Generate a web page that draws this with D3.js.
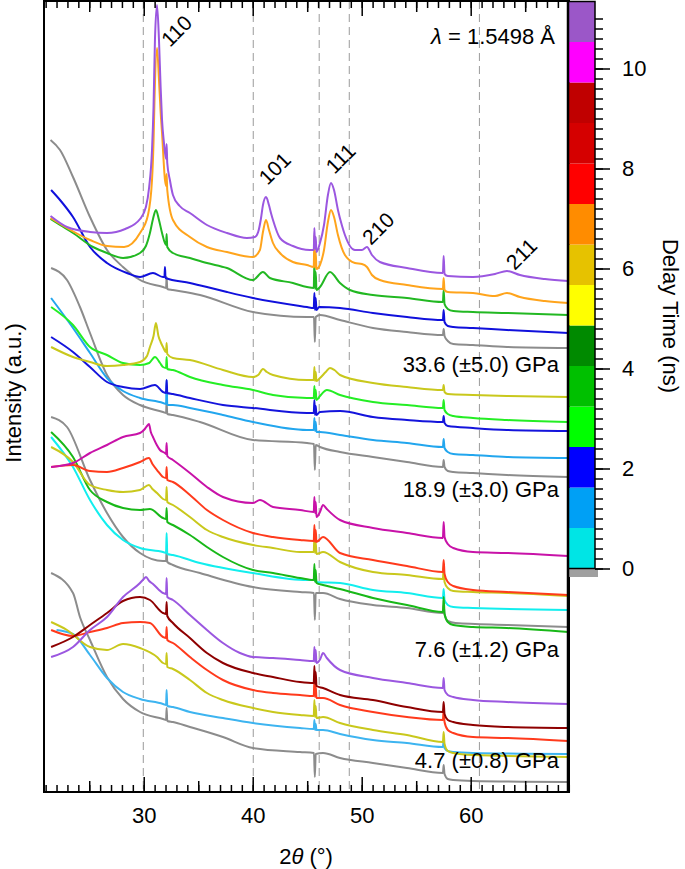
<!DOCTYPE html>
<html><head><meta charset="utf-8">
<script src="https://cdn.jsdelivr.net/npm/d3@7"></script>
<style>
body{margin:0;background:#fff}
svg{display:block}
text{font-family:"Liberation Sans",Arial,Helvetica,sans-serif;fill:#000}
</style>
</head><body>
<svg id="chart" width="685" height="869"></svg>
<script>
// ---------- data: [2theta (deg), intensity (a.u.)] ----------
const g1Purple=[[21.45,57.6],[22.96,56.5],[25.07,56.0],[26.63,55.9],[28.3,56.3],[29.66,57.3],[30.2,58.5],[30.5,60.5],[30.76,64.2],[30.9,68.5],[31.03,75.2],[31.22,78.7],[31.4,75.2],[31.55,70.5],[31.68,67.2],[31.85,65.0],[32.05,63.3],[32.1,64.8],[32.16,62.9],[32.4,61.2],[32.68,59.7],[33.3,58.6],[34.24,57.9],[35.8,56.7],[37.64,55.9],[39.47,55.4],[40.2,55.5],[40.5,56.0],[40.75,57.3],[40.94,58.7],[41.22,59.5],[41.49,58.7],[41.7,57.8],[41.86,57.2],[42.5,55.4],[43.69,54.6],[45.25,54.2],[45.6,54.2],[45.66,56.4],[45.72,54.3],[45.78,55.5],[45.85,54.0],[46.17,54.9],[46.54,56.7],[46.9,59.7],[47.18,60.9],[47.46,60.2],[47.82,58.2],[48.2,56.6],[48.46,55.7],[49.38,54.2],[50.02,54.2],[50.48,54.5],[50.94,53.7],[51.67,53.0],[54.15,52.4],[57.45,51.9],[57.52,53.6],[57.6,51.8],[57.9,51.6],[60.21,51.5],[62.23,51.8],[63.33,52.1],[64.52,51.7],[66.81,51.3],[68.95,51.1]];
const g1Orange=[[21.45,57.4],[22.96,56.4],[25.07,55.2],[26.63,54.6],[28.2,54.5],[29.66,55.9],[30.39,57.7],[30.76,61.2],[30.9,65.0],[30.99,69.2],[31.22,74.4],[31.4,71.2],[31.55,68.0],[31.68,65.9],[31.95,61.2],[32.05,60.6],[32.1,61.8],[32.16,60.2],[32.68,57.2],[34.24,55.5],[35.8,54.5],[37.64,54.0],[40.02,53.5],[40.66,54.2],[40.94,56.0],[41.22,57.2],[41.49,56.2],[41.86,54.9],[42.5,53.9],[43.69,53.0],[44.98,52.7],[45.6,52.5],[45.66,55.7],[45.72,52.4],[45.78,54.0],[45.85,52.3],[46.17,52.7],[46.54,54.2],[46.9,57.0],[47.18,58.2],[47.46,57.5],[47.82,55.7],[48.46,53.7],[49.38,52.9],[50.02,52.8],[50.48,52.5],[50.94,51.7],[51.67,51.2],[54.15,50.7],[57.45,50.3],[57.52,51.4],[57.6,50.2],[57.9,50.0],[60.21,49.9],[62.23,49.6],[63.33,49.9],[64.52,49.5],[66.81,49.1],[68.95,48.9]];
const g1Green=[[21.45,57.3],[22.32,56.7],[23.51,55.9],[25.35,54.5],[26.63,53.9],[28.1,53.4],[29.66,53.9],[30.2,54.6],[30.57,55.9],[30.85,57.3],[31.12,58.2],[31.4,57.2],[31.68,55.9],[32.05,54.7],[32.1,55.8],[32.16,54.5],[32.68,53.9],[34.24,53.4],[35.8,52.9],[37.64,52.4],[40.02,51.2],[40.94,52.0],[41.58,51.4],[43.69,50.9],[44.98,50.5],[45.6,50.4],[45.66,53.0],[45.72,50.3],[45.78,52.0],[45.85,50.2],[46.17,50.5],[47.09,52.0],[48.01,50.9],[48.92,50.2],[51.03,49.7],[54.15,49.4],[57.45,49.0],[57.52,50.2],[57.6,48.8],[57.9,48.3],[58.4,48.1],[60.21,48.0],[63.33,47.9],[68.95,47.7]];
const g1Blue=[[21.5,60.2],[22.32,59.2],[23.51,57.5],[25.07,54.5],[26.63,52.9],[28.46,51.9],[29.66,51.5],[30.85,51.9],[31.77,51.5],[31.9,51.5],[31.95,52.5],[32.0,51.4],[34.24,50.9],[35.8,50.5],[37.64,50.0],[40.02,49.4],[44.98,48.5],[45.6,48.4],[45.66,49.9],[45.72,48.2],[45.78,49.4],[45.85,48.2],[46.1,48.5],[48.01,48.4],[51.03,47.9],[54.15,47.5],[57.45,47.2],[57.52,48.2],[57.6,47.0],[57.9,46.6],[58.4,46.5],[60.21,46.4],[63.33,46.2],[68.95,45.9]];
const g1Gray=[[21.45,65.2],[22.32,64.2],[23.51,61.5],[25.07,57.5],[26.63,54.2],[28.1,52.5],[29.66,51.2],[31.77,50.5],[32.05,50.4],[32.1,51.5],[32.16,50.3],[32.68,50.2],[35.16,49.7],[40.02,48.0],[44.98,47.5],[45.62,47.5],[45.7,45.0],[45.78,47.5],[46.17,47.7],[48.01,47.2],[51.03,46.4],[54.15,46.0],[57.45,45.7],[57.52,46.3],[57.6,45.6],[57.9,45.1],[58.4,44.8],[60.21,44.7],[63.33,44.5],[68.95,44.4]];

const g2Olive=[[21.5,44.5],[23.51,43.5],[25.07,43.0],[26.63,42.6],[28.1,42.7],[29.66,43.0],[30.3,43.6],[30.57,44.5],[30.9,45.6],[31.12,46.9],[31.35,45.6],[31.55,45.0],[31.77,44.5],[32.05,44.0],[32.1,44.9],[32.16,43.8],[32.68,43.4],[34.24,43.2],[37.27,42.2],[40.02,41.5],[40.5,41.7],[40.94,42.3],[41.3,42.0],[41.86,41.7],[44.98,41.2],[45.6,41.2],[45.66,42.5],[45.72,41.1],[45.78,42.0],[45.85,41.1],[46.17,41.4],[46.7,42.0],[47.09,42.4],[47.5,42.2],[48.01,41.7],[51.03,40.9],[54.15,40.5],[57.45,40.2],[57.52,40.7],[57.6,40.0],[57.9,39.8],[60.21,39.7],[63.33,39.6],[68.95,39.5]];
const g2Green=[[21.5,48.5],[23.51,46.7],[25.07,44.5],[26.63,43.7],[28.1,42.9],[29.66,42.7],[30.5,42.9],[31.03,43.5],[31.5,42.9],[31.77,42.5],[32.05,42.4],[32.1,43.5],[32.16,42.3],[32.68,42.2],[34.24,41.5],[37.27,40.7],[40.02,40.2],[41.86,39.7],[44.98,39.4],[45.6,39.4],[45.66,40.6],[45.72,39.3],[45.78,40.2],[45.85,39.2],[46.17,39.6],[46.81,40.2],[48.01,39.7],[51.03,39.0],[54.15,38.7],[57.45,38.4],[57.52,39.2],[57.6,38.2],[57.9,37.8],[58.4,37.6],[60.21,37.4],[63.33,37.2],[68.95,37.0]];
const g2Blue=[[21.5,45.5],[23.51,44.0],[25.07,42.5],[26.63,41.0],[28.1,40.5],[29.66,40.3],[31.03,40.7],[31.77,40.0],[32.05,39.9],[32.1,41.2],[32.16,39.9],[32.68,39.8],[34.24,39.4],[37.27,38.7],[40.02,38.4],[44.98,37.9],[45.6,37.9],[45.66,39.2],[45.72,37.7],[45.78,38.6],[45.85,37.7],[46.17,38.0],[48.01,38.1],[51.03,37.5],[54.15,37.2],[57.45,37.0],[57.52,37.6],[57.6,36.9],[57.9,36.6],[60.21,36.4],[63.33,36.2],[68.95,36.1]];
const g2LtBlue=[[21.5,49.4],[23.51,46.4],[25.07,43.9],[26.63,41.4],[28.1,40.1],[29.66,39.4],[31.77,38.9],[32.05,38.8],[32.1,41.2],[32.16,38.7],[32.68,38.7],[34.24,38.4],[37.27,37.7],[40.02,37.0],[44.98,36.2],[45.6,36.2],[45.66,37.4],[45.72,36.1],[45.78,37.0],[45.85,36.0],[46.17,36.0],[48.01,35.7],[51.03,35.2],[54.15,34.9],[57.45,34.5],[57.52,35.3],[57.6,34.4],[57.9,34.0],[58.4,33.8],[60.21,33.7],[63.33,33.5],[68.95,33.4]];
const g2Gray=[[21.5,52.4],[22.96,51.2],[24.15,48.5],[25.07,45.9],[26.63,41.7],[28.1,39.7],[29.66,38.7],[31.77,38.0],[32.05,37.9],[32.1,39.0],[32.16,37.8],[32.68,37.7],[35.16,37.0],[40.02,35.2],[44.98,34.9],[45.62,34.8],[45.7,32.2],[45.78,34.7],[46.17,34.5],[48.01,34.0],[51.03,33.5],[54.15,33.0],[57.45,32.5],[57.52,33.2],[57.6,32.5],[57.9,32.1],[58.4,32.0],[60.21,31.9],[63.33,31.7],[68.95,31.5]];

const g3Magenta=[[21.5,32.5],[23.51,32.9],[25.07,33.9],[26.63,34.7],[28.1,35.5],[29.66,35.9],[30.1,36.3],[30.3,36.6],[30.48,36.8],[30.65,36.0],[30.85,35.5],[31.2,34.7],[31.49,34.2],[31.95,33.9],[32.05,33.8],[32.1,34.9],[32.16,33.6],[32.68,33.2],[34.24,31.9],[35.8,30.5],[37.27,29.5],[40.02,28.9],[40.66,29.2],[41.86,28.5],[44.34,28.2],[45.6,28.0],[45.66,29.5],[45.72,27.9],[45.78,29.0],[45.85,27.5],[46.17,28.0],[46.45,28.7],[46.8,28.3],[48.01,27.2],[51.03,26.4],[54.15,25.9],[57.45,25.4],[57.52,27.0],[57.6,25.5],[57.9,24.8],[58.4,24.4],[60.21,24.0],[63.33,23.9],[68.95,23.6]];
const g3Red=[[21.5,32.5],[23.51,32.7],[25.07,32.1],[26.63,32.0],[28.1,32.4],[29.66,33.0],[30.48,33.4],[30.8,32.8],[31.22,32.2],[31.77,31.5],[32.05,31.4],[32.1,32.5],[32.16,31.2],[32.68,31.0],[34.24,29.7],[35.8,28.2],[37.27,27.2],[40.02,25.9],[41.86,25.5],[44.34,25.2],[45.6,25.1],[45.66,26.7],[45.72,25.0],[45.78,26.2],[45.85,25.0],[46.45,25.5],[48.01,23.9],[51.03,23.2],[54.15,22.6],[57.45,22.0],[57.52,23.2],[57.6,21.8],[57.9,21.0],[58.4,20.6],[60.21,20.2],[63.33,20.0],[68.95,19.7]];
const g3Olive=[[21.5,34.5],[23.51,33.0],[25.07,30.7],[26.63,30.2],[28.1,30.0],[29.66,30.2],[30.48,30.7],[30.8,30.3],[31.22,29.9],[31.77,29.3],[32.05,29.2],[32.1,30.5],[32.16,29.0],[32.68,28.7],[34.24,27.5],[35.8,26.2],[37.27,25.5],[40.02,24.7],[41.86,24.4],[44.34,24.0],[45.6,24.0],[45.66,25.6],[45.72,23.9],[45.78,25.0],[45.85,23.8],[46.45,24.0],[48.01,23.0],[51.03,22.0],[54.15,21.7],[57.45,21.3],[57.52,22.6],[57.6,21.0],[57.9,20.4],[58.4,20.1],[60.21,20.0],[63.33,19.9],[68.95,19.6]];
const g3Green=[[21.5,36.0],[23.51,33.5],[25.07,30.2],[26.63,29.0],[28.1,28.4],[29.66,28.2],[30.57,28.3],[31.77,27.4],[32.05,27.3],[32.1,28.4],[32.16,27.0],[32.68,26.7],[34.24,25.7],[35.8,24.5],[37.27,23.5],[40.02,22.2],[41.86,21.9],[44.34,21.4],[45.6,21.2],[45.66,22.8],[45.72,21.0],[45.78,22.2],[45.85,20.9],[46.45,20.7],[48.01,20.3],[51.03,19.4],[54.15,18.7],[57.45,18.0],[57.52,19.5],[57.6,17.8],[57.9,17.0],[58.4,16.7],[60.21,16.5],[63.33,16.4],[68.95,16.0]];
const g3Cyan=[[21.5,35.5],[23.51,32.5],[25.07,29.2],[26.63,26.7],[28.1,25.2],[29.66,24.4],[31.77,24.0],[32.05,23.9],[32.1,25.9],[32.16,23.8],[32.68,23.7],[35.16,22.9],[40.02,21.9],[44.98,21.2],[45.6,21.2],[45.66,21.9],[45.72,21.1],[45.78,21.6],[45.85,21.0],[48.01,20.9],[51.03,20.2],[54.15,19.9],[57.45,19.4],[57.52,20.3],[57.6,19.2],[57.9,18.7],[58.4,18.5],[60.21,18.4],[68.95,18.2]];
const g3Gray=[[21.5,37.5],[22.96,36.5],[25.07,31.2],[26.63,27.9],[28.1,25.5],[29.66,23.9],[31.77,23.1],[32.05,23.1],[32.1,24.2],[32.16,23.0],[32.68,22.7],[35.16,21.9],[40.02,20.5],[44.34,20.0],[45.62,19.9],[45.7,17.2],[45.78,19.9],[46.45,19.9],[48.01,19.3],[51.03,18.7],[54.15,18.4],[57.45,17.9],[57.52,18.7],[57.6,17.8],[57.9,17.1],[58.6,16.9],[63.33,16.7],[68.95,16.5]];

const g4Purple=[[21.5,13.5],[23.51,14.5],[25.07,16.2],[26.63,17.5],[28.1,19.5],[29.66,20.9],[30.0,21.3],[30.21,21.5],[30.5,21.1],[30.85,20.8],[31.77,19.9],[32.05,19.8],[32.1,21.4],[32.16,19.5],[32.68,19.2],[34.24,17.7],[35.8,16.2],[37.27,14.9],[38.83,13.9],[40.02,13.5],[41.86,13.4],[44.34,13.2],[45.6,13.1],[45.66,14.5],[45.72,13.0],[45.78,14.2],[45.85,12.9],[46.2,13.3],[46.45,13.9],[46.8,13.4],[48.01,12.2],[51.03,11.4],[54.15,10.9],[57.45,10.4],[57.52,11.4],[57.6,10.2],[57.9,9.7],[58.4,9.5],[60.21,9.2],[63.33,9.0],[68.95,8.8]];
const g4DarkRed=[[21.5,14.5],[23.51,15.5],[25.07,16.7],[26.63,17.9],[28.1,19.1],[29.66,19.5],[30.57,19.2],[31.77,17.9],[32.05,17.8],[32.1,19.0],[32.16,17.6],[32.68,16.9],[34.24,15.4],[35.8,13.9],[37.27,12.9],[40.02,11.9],[41.86,11.5],[44.34,11.0],[45.6,10.9],[45.66,12.6],[45.72,10.8],[45.78,12.0],[45.85,10.6],[46.45,10.4],[48.01,9.7],[51.03,9.2],[54.15,8.5],[57.45,8.0],[57.52,9.0],[57.6,7.8],[57.9,7.2],[58.4,7.0],[60.21,6.7],[63.33,6.5],[68.95,6.4]];
const g4Red=[[21.5,16.2],[23.51,15.6],[25.07,16.0],[26.63,16.4],[28.1,16.9],[29.66,17.0],[30.57,16.9],[31.77,15.5],[32.05,15.4],[32.1,16.5],[32.16,15.2],[32.68,14.9],[34.24,13.5],[35.8,12.2],[37.27,11.2],[40.02,10.2],[41.86,9.9],[44.34,9.7],[45.6,9.6],[45.66,11.2],[45.72,9.5],[45.78,10.6],[45.85,9.4],[46.45,9.4],[48.01,8.7],[51.03,8.0],[54.15,7.5],[57.45,7.2],[57.52,8.2],[57.6,7.0],[57.9,6.2],[58.4,5.9],[60.21,5.5],[63.33,5.4],[68.95,5.1]];
const g4Olive=[[21.5,17.0],[22.96,16.2],[25.07,14.5],[26.63,14.2],[28.1,14.8],[29.66,14.4],[31.22,13.5],[31.77,12.9],[32.05,12.8],[32.1,13.9],[32.16,12.5],[32.68,12.3],[34.24,11.2],[35.8,9.9],[37.27,9.2],[40.02,8.4],[41.86,8.0],[44.34,7.7],[45.6,7.6],[45.66,9.2],[45.72,7.5],[45.78,8.6],[45.85,7.4],[46.45,7.5],[48.01,6.9],[51.03,6.2],[54.15,5.7],[57.45,5.0],[57.52,6.0],[57.6,4.8],[57.9,4.1],[58.4,3.9],[60.21,3.7],[68.95,3.5]];
const g4LtBlue=[[22.0,16.2],[23.51,15.8],[25.07,13.7],[26.63,11.4],[28.1,10.0],[29.66,9.3],[31.77,8.8],[32.05,8.7],[32.1,10.2],[32.16,8.6],[32.68,8.5],[34.24,8.0],[37.27,7.4],[40.02,6.9],[44.34,6.4],[45.6,6.3],[45.66,7.2],[45.72,6.2],[45.78,6.8],[45.85,6.2],[46.45,6.2],[48.01,5.8],[51.03,5.2],[54.15,4.9],[57.45,4.5],[57.52,5.2],[57.6,4.4],[57.9,4.1],[58.4,4.0],[60.21,3.9],[68.95,3.8]];
const g4Gray=[[21.5,21.9],[23.51,19.9],[24.15,17.5],[25.07,15.2],[26.63,11.5],[28.1,9.3],[29.66,8.0],[31.77,7.3],[32.05,7.2],[32.1,8.4],[32.16,7.1],[32.68,7.0],[34.24,6.5],[37.27,5.5],[40.02,4.4],[44.34,4.0],[45.62,3.9],[45.7,1.5],[45.78,3.8],[46.45,3.9],[48.01,3.4],[51.03,2.9],[54.15,2.4],[57.45,1.9],[57.52,2.7],[57.6,1.8],[57.9,1.3],[58.4,1.2],[60.21,1.1],[68.95,1.0]];

// curve list (drawing order, bottom first) and colours
const curveData  =[g4Gray,g4LtBlue,g4Olive,g4Red,g4DarkRed,g4Purple,
                   g3Gray,g3Cyan,g3Green,g3Olive,g3Red,g3Magenta,
                   g2Gray,g2LtBlue,g2Blue,g2Green,g2Olive,
                   g1Gray,g1Blue,g1Green,g1Orange,g1Purple];
const curveColors=["#8c8c8c","#3db4f0","#c9c81c","#ff3a1c","#8e0000","#9b57e0",
                   "#8c8c8c","#12eeee","#18b818","#c9c81c","#ff3a1c","#c812a8",
                   "#8c8c8c","#22a6ee","#1414dc","#24ee24","#c9c81c",
                   "#8c8c8c","#1010dc","#22b822","#ffa41c","#9b57e0"];

// reference lines, peak labels, pressure labels
const dashedTheta=[29.96,40.05,46.1,48.86,60.8];
const peakLabels=["110","101","111","210","211"];
const peakLabelTheta=[32.4,41.35,47.5,50.85,64.05];
const peakLabelI=[74.4,60.6,61.7,54.6,52.1];
const pressureLabels=["33.6 (\u00b15.0) GPa","18.9 (\u00b13.0) GPa","7.6 (\u00b11.2) GPa","4.7 (\u00b10.8) GPa"];
const pressureLabelI=[42.0,29.5,13.5,2.4];
const xMajorTicks=[30,40,50,60];
const xMediumTicks=[25,35,45,55,65];
const xMinorTicks=d3.range(21,70);
// colour bar
const cbarEdges=[0,0.81,1.62,2.43,3.24,4.05,4.86,5.67,6.48,7.29,8.10,8.91,9.72,10.53,11.34];
const cbarColors=["#00e5e5","#00a0f5","#0000ff","#00ff00","#00c000","#008a00","#ffff00","#e6c200","#ff8c00","#ff0000","#d50000","#c00000","#ff00ff","#9b57c8"];
const cbarMajorTicks=[0,2,4,6,8,10];
const cbarMinorTicks=d3.range(0,56).map(i=>i*0.2);

// ---------- layout ----------
const L=44,R=569,T=1,B=792;
const svg=d3.select("#chart");
const x=d3.scaleLinear().domain([20.85,69.02]).range([L,R]);
const y=d3.scaleLinear().domain([0,79.1]).range([B,T]);

svg.append("defs").append("clipPath").attr("id","clip")
  .append("rect").attr("x",L).attr("y",T).attr("width",R-L).attr("height",B-T);

// dashed reference lines
svg.append("g").selectAll("line").data(dashedTheta).join("line")
  .attr("x1",d=>x(d)).attr("x2",d=>x(d)).attr("y1",T).attr("y2",B)
  .attr("stroke","#9a9a9a").attr("stroke-width",1).attr("stroke-dasharray","8,5");

// curves
const line=d3.line().x(d=>x(d[0])).y(d=>y(d[1])).curve(d3.curveMonotoneX);
svg.append("g").attr("clip-path","url(#clip)")
  .selectAll("path").data(curveData).join("path")
  .attr("d",line).attr("fill","none")
  .attr("stroke",(d,i)=>curveColors[i]).attr("stroke-width",2)
  .attr("stroke-linejoin","round");

// axes ticks (inward)
function tickAxis(axisFn, yPos, vals, size, labels){
  const a=axisFn(x).tickValues(vals).tickSize(size).tickSizeOuter(0).tickPadding(15)
    .tickFormat(labels?d3.format("d"):"");
  const g=svg.append("g").attr("transform",`translate(0,${yPos})`).call(a);
  g.select(".domain").remove();
  g.selectAll(".tick line").attr("stroke","#000").attr("stroke-width",1.5);
  g.selectAll("text").attr("font-size",22).attr("font-family","Liberation Sans, Arial, sans-serif").attr("fill","#000");
  return g;
}
tickAxis(d3.axisBottom,B,xMinorTicks,-7,false);
tickAxis(d3.axisBottom,B,xMediumTicks,-11,false);
tickAxis(d3.axisBottom,B,xMajorTicks,-15,true);
tickAxis(d3.axisTop,T,xMinorTicks,-7,false);
tickAxis(d3.axisTop,T,xMediumTicks,-11,false);
tickAxis(d3.axisTop,T,xMajorTicks,-15,false);

// frame
svg.append("rect").attr("x",L).attr("y",T).attr("width",R-L).attr("height",B-T)
  .attr("fill","none").attr("stroke","#000").attr("stroke-width",2);

// texts
svg.append("text").attr("x",555).attr("y",44).attr("text-anchor","end").attr("font-size",22)
  .html('<tspan font-style="italic">\u03bb</tspan> = 1.5498 \u00c5');
svg.append("g").selectAll("text").data(pressureLabels).join("text")
  .attr("x",559).attr("y",(d,i)=>y(pressureLabelI[i])).attr("text-anchor","end")
  .attr("font-size",22).text(d=>d);
svg.append("g").selectAll("text").data(peakLabels).join("text")
  .attr("transform",(d,i)=>`translate(${x(peakLabelTheta[i])},${y(peakLabelI[i])}) rotate(-45)`)
  .attr("font-size",21).text(d=>d);

svg.append("text").attr("x",306).attr("y",864).attr("text-anchor","middle").attr("font-size",22)
  .html('2<tspan font-style="italic">\u03b8</tspan> (\u00b0)');
svg.append("text").attr("transform","translate(21,393) rotate(-90)").attr("text-anchor","middle")
  .attr("font-size",22).text("Intensity (a.u.)");

// colour bar
const cb=d3.scaleLinear().domain([0,11.34]).range([568.5,1.5]);
const cbX=568,cbW=27;
svg.append("rect").attr("x",cbX).attr("y",569).attr("width",30).attr("height",8).attr("fill","#a0a0a0");
svg.append("g").selectAll("rect").data(cbarColors).join("rect")
  .attr("x",cbX).attr("width",cbW)
  .attr("y",(d,i)=>cb(cbarEdges[i+1])).attr("height",(d,i)=>cb(cbarEdges[i])-cb(cbarEdges[i+1]))
  .attr("fill",d=>d);
svg.append("rect").attr("x",cbX).attr("y",cb(11.34)).attr("width",cbW).attr("height",cb(0)-cb(11.34))
  .attr("fill","none").attr("stroke","#000").attr("stroke-width",1.5);
svg.append("line").attr("x1",cbX).attr("x2",cbX).attr("y1",0).attr("y2",B).attr("stroke","#000").attr("stroke-width",2.5);
const cbAxisMinor=d3.axisRight(cb).tickValues(cbarMinorTicks).tickSize(8).tickSizeOuter(0).tickFormat("");
const cbAxisMajor=d3.axisRight(cb).tickValues(cbarMajorTicks).tickSize(15).tickSizeOuter(0).tickPadding(12).tickFormat(d3.format("d"));
[cbAxisMinor,cbAxisMajor].forEach(a=>{
  const g=svg.append("g").attr("transform",`translate(${cbX+cbW},0)`).call(a);
  g.select(".domain").remove();
  g.selectAll(".tick line").attr("stroke","#000").attr("stroke-width",1.5);
  g.selectAll("text").attr("font-size",22).attr("font-family","Liberation Sans, Arial, sans-serif").attr("fill","#000");
});
svg.append("text").attr("transform","translate(663,316) rotate(90)").attr("text-anchor","middle")
  .attr("font-size",22).text("Delay Time (ns)");
</script>
</body></html>
